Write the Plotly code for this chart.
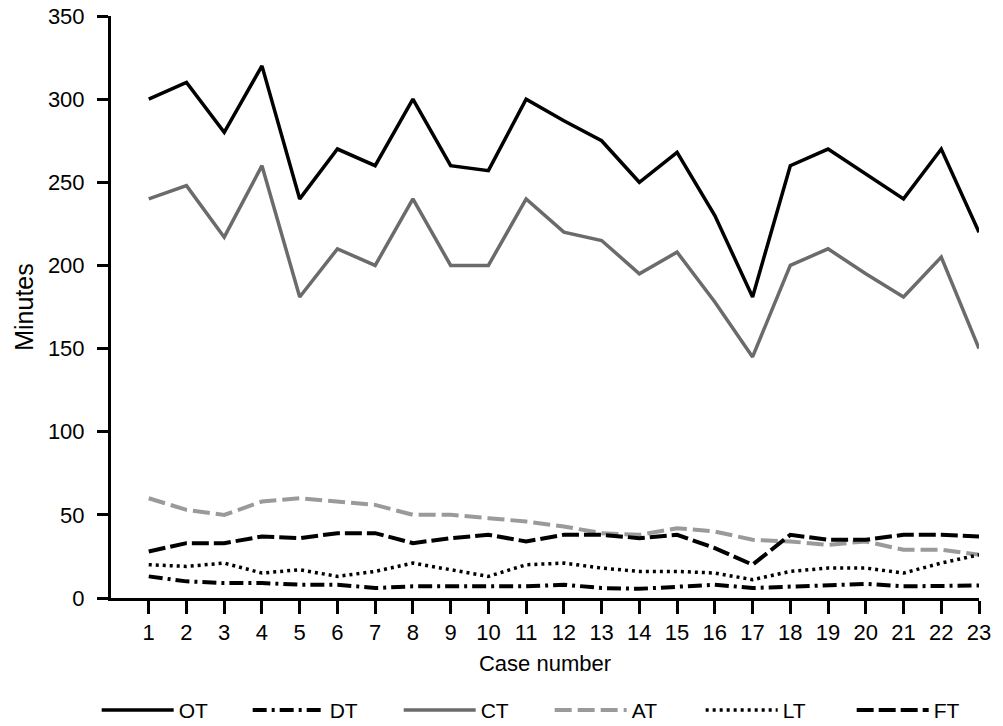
import plotly.graph_objects as go

cases = list(range(1, 24))

OT = [300, 310, 280, 320, 240, 270, 260, 300, 260, 257, 300, 287, 275, 250, 268, 230, 181, 260, 270, 255, 240, 270, 220]
CT = [240, 248, 217, 260, 181, 210, 200, 240, 200, 200, 240, 220, 215, 195, 208, 178, 145, 200, 210, 195, 181, 205, 150]
AT = [60, 53, 50, 58, 60, 58, 56, 50, 50, 48, 46, 43, 39, 38, 42, 40, 35, 34, 32, 34, 29, 29, 26]
FT = [28, 33, 33, 37, 36, 39, 39, 33, 36, 38, 34, 38, 38, 36, 38, 30, 20, 38, 35, 35, 38, 38, 37]
LT = [20, 19, 21, 15, 17, 13, 16, 21, 17, 13, 20, 21, 18, 16, 16, 15, 11, 16, 18, 18, 15, 21, 26]
DT = [13, 10, 9, 9, 8, 8, 6, 7, 7, 7, 7, 8, 6, 5.5, 7, 8, 6, 7, 8, 8.5, 7, 7, 7.5]

series = [
    ("OT", OT, dict(color="#000000", width=3.5, dash="solid")),
    ("DT", DT, dict(color="#000000", width=4, dash="14px,5px,3px,5px")),
    ("CT", CT, dict(color="#6b6b6b", width=3.5, dash="solid")),
    ("AT", AT, dict(color="#9a9a9a", width=4, dash="17px,6px")),
    ("LT", LT, dict(color="#000000", width=3.5, dash="3px,4px")),
    ("FT", FT, dict(color="#000000", width=4, dash="17px,5px")),
]

FONT = "Liberation Sans, Arial, sans-serif"

fig = go.Figure()
for name, vals, line in series:
    fig.add_trace(go.Scatter(x=cases, y=vals, name=name, mode="lines", line=line))

fig.update_layout(
    width=1003,
    height=726,
    margin=dict(l=111, r=24, t=16, b=128, autoexpand=False),
    paper_bgcolor="white",
    plot_bgcolor="white",
    font=dict(family=FONT, size=22, color="#000000"),
    showlegend=True,
    legend=dict(
        orientation="h",
        x=-0.0165,
        xanchor="left",
        y=-0.193,
        yanchor="middle",
        itemwidth=72,
        entrywidth=64,
        entrywidthmode="pixels",
        font=dict(family=FONT, size=21),
        traceorder="normal",
    ),
    xaxis=dict(
        range=[0, 23],
        tickvals=cases,
        ticktext=[str(c) for c in cases],
        showgrid=False,
        zeroline=False,
        showline=True,
        linecolor="#000000",
        linewidth=3,
        ticks="outside",
        ticklen=13,
        tickwidth=3,
        tickcolor="#000000",
        ticklabeloverflow="allow",
        tickfont=dict(size=22),
        title=dict(text="Case number", font=dict(size=22), standoff=12),
    ),
    yaxis=dict(
        range=[0, 350],
        tickvals=[0, 50, 100, 150, 200, 250, 300, 350],
        showgrid=False,
        zeroline=False,
        showline=True,
        linecolor="#000000",
        linewidth=3,
        ticks="outside",
        ticklen=11,
        tickwidth=3,
        tickcolor="#000000",
        ticklabelstandoff=8,
        ticklabeloverflow="allow",
        tickfont=dict(size=22),
        title=dict(text="Minutes", font=dict(size=25), standoff=8),
    ),
)

fig.write_html(
    "out.html",
    config={"displayModeBar": False},
    post_script="document.body.style.margin='0';document.body.style.overflow='hidden';",
)
